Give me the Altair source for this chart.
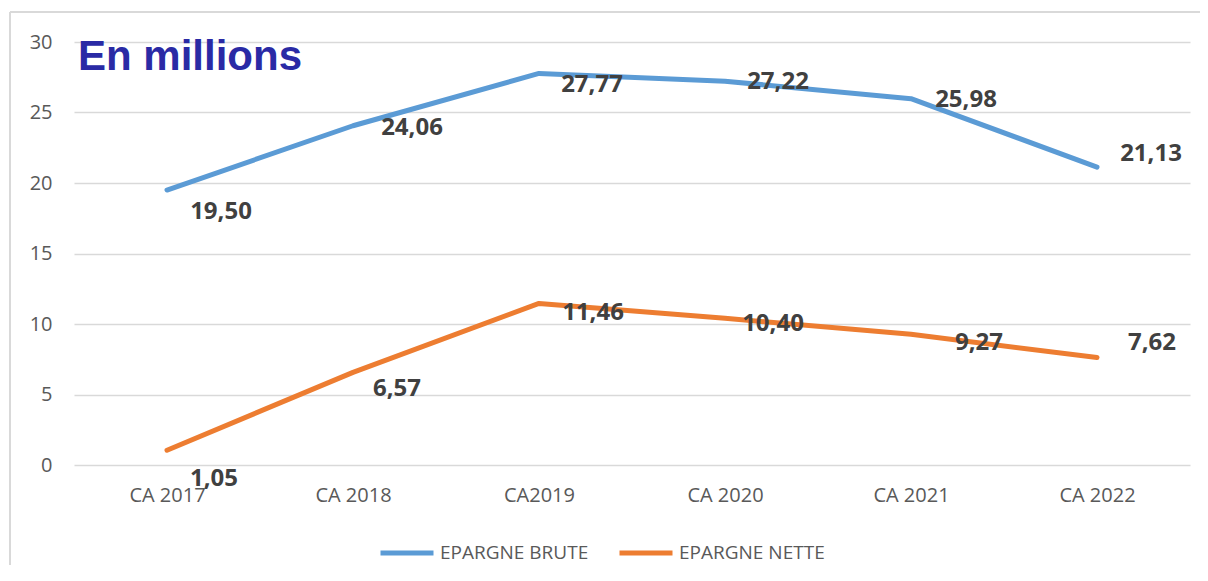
import altair as alt
import pandas as pd

categories = ["CA 2017", "CA 2018", "CA2019", "CA 2020", "CA 2021", "CA 2022"]
brute = [19.50, 24.06, 27.77, 27.22, 25.98, 21.13]
nette = [1.05, 6.57, 11.46, 10.40, 9.27, 7.62]
series_names = ["EPARGNE BRUTE", "EPARGNE NETTE"]
series_colors = ["#5B9BD5", "#ED7D31"]
title_text = "En millions"

# label offsets (pixels) – styling only
brute_dx = [54, 59, 53, 53, 55, 54]
brute_dy = [22, 2, 12, 1, 1, -13]
nette_dx = [47, 44, 54, 48, 68, 55]
nette_dy = [29, 17, 10, 6, 9, -15]

rows = []
for i, c in enumerate(categories):
    rows.append({"cat": c, "serie": series_names[0], "val": brute[i],
                 "lbl": f"{brute[i]:.2f}".replace(".", ","), "key": f"b{i}"})
for i, c in enumerate(categories):
    rows.append({"cat": c, "serie": series_names[1], "val": nette[i],
                 "lbl": f"{nette[i]:.2f}".replace(".", ","), "key": f"n{i}"})
df = pd.DataFrame(rows)
single = pd.DataFrame({"t": [title_text]})

W, H = 1116, 423
xscale = alt.Scale(type="point", padding=0.5)
yscale = alt.Scale(domain=[0, 30], nice=False)

x = alt.X("cat:N", sort=categories, title=None, scale=xscale,
          axis=alt.Axis(labelAngle=0, labelFont="Open Sans", labelFontSize=20,
                        labelColor="#595959", labelPadding=20, ticks=False,
                        domain=False, grid=False))
y = alt.Y("val:Q", title=None, scale=yscale,
          axis=alt.Axis(values=[0, 5, 10, 15, 20, 25, 30], labelFont="Open Sans",
                        labelFontSize=20, labelColor="#595959", labelPadding=22,
                        ticks=False, domain=False, gridColor="#D9D9D9",
                        gridWidth=1.5))

base = alt.Chart(df)
one = alt.Chart(single)

lines = base.mark_line(strokeWidth=5, strokeCap="round", strokeJoin="round").encode(
    x=x, y=y,
    color=alt.Color("serie:N", scale=alt.Scale(domain=series_names, range=series_colors),
                    legend=alt.Legend(title=None, orient="none", legendX=304, legendY=482,
                                      direction="horizontal", symbolType="stroke",
                                      symbolSize=2809, symbolStrokeWidth=5,
                                      labelFont="Open Sans", labelFontSize=19,
                                      labelColor="#595959", columnPadding=20,
                                      labelOffset=4, padding=0)),
    detail="serie:N",
)

label_layers = []
offsets = [(f"b{i}", brute_dx[i], brute_dy[i]) for i in range(6)] + \
          [(f"n{i}", nette_dx[i], nette_dy[i]) for i in range(6)]
for key, ddx, ddy in offsets:
    label_layers.append(
        base.transform_filter(alt.datum.key == key).mark_text(
            font="Open Sans", fontSize=24, fontWeight="bold", color="#404040",
            align="center", baseline="middle", dx=ddx, dy=ddy).encode(
            x=alt.X("cat:N", sort=categories, scale=xscale),
            y=alt.Y("val:Q", scale=yscale),
            text="lbl:N")
    )

frame_left = one.mark_rule(color="#D9D9D9", strokeWidth=2).encode(
    x=alt.value(-64), y=alt.value(-30), y2=alt.value(600))
frame_top = one.mark_rule(color="#D9D9D9", strokeWidth=2).encode(
    x=alt.value(-64), x2=alt.value(1200), y=alt.value(-30))

title = one.mark_text(font="Liberation Sans", fontSize=42, fontWeight="bold",
                      color="#2A2AA5", align="left", baseline="alphabetic").encode(
    x=alt.value(4), y=alt.value(28), text="t:N")

chart = alt.layer(frame_left, frame_top, lines, *label_layers, title).properties(
    width=W, height=H,
    autosize=alt.AutoSizeParams(type="none"),
    padding={"left": 66, "top": 34, "right": 10, "bottom": 100},
).configure_view(stroke=None)

chart.save("out.html", embed_options={"renderer": "svg", "actions": False})
